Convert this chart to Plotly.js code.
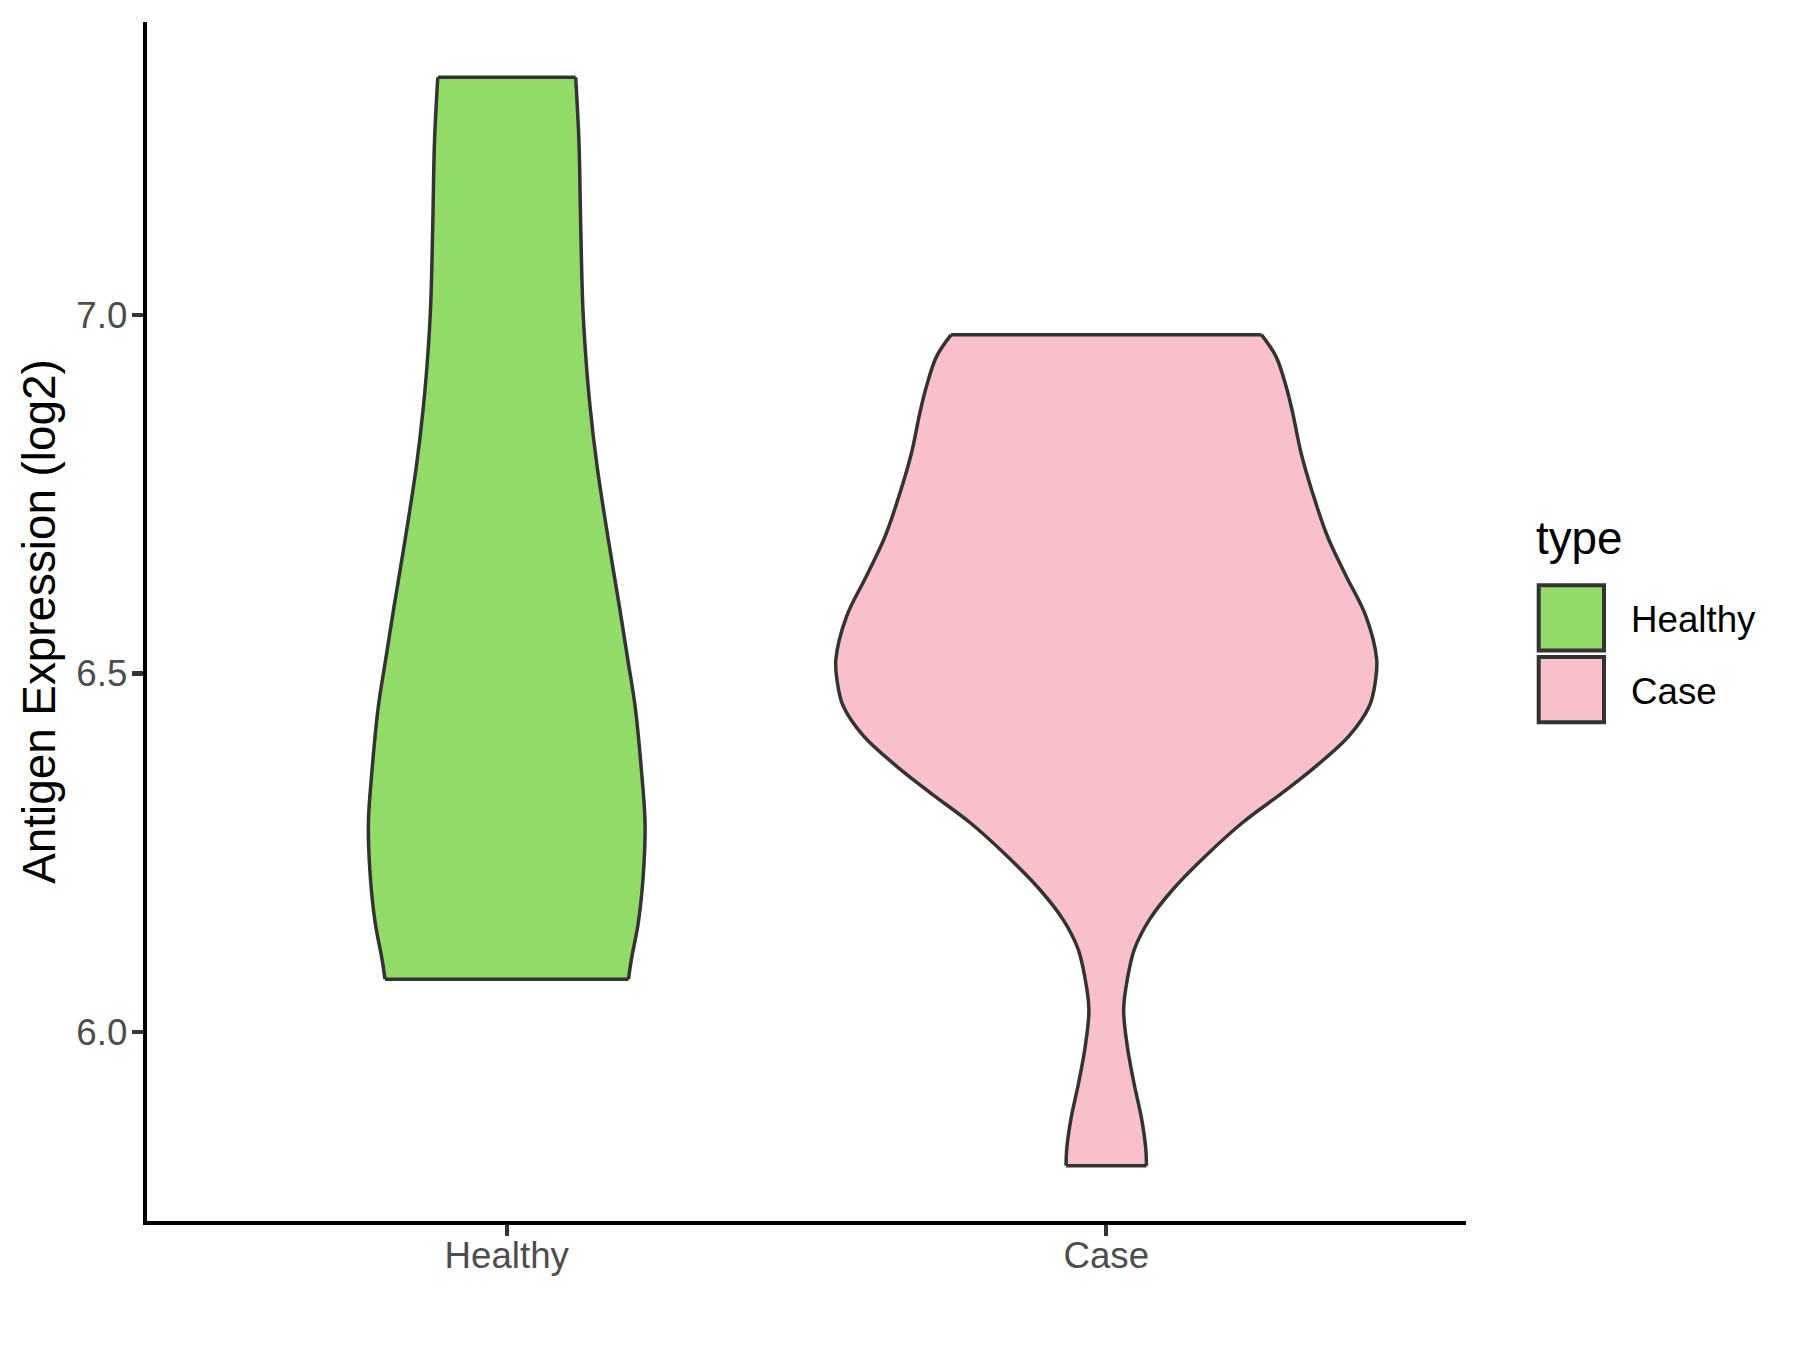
<!DOCTYPE html>
<html>
<head>
<meta charset="utf-8">
<script src="https://cdn.plot.ly/plotly-3.0.1.min.js"></script>
<style>
  html, body { margin: 0; padding: 0; background: #ffffff; }
  #chart { width: 1800px; height: 1350px; }
</style>
</head>
<body>
<div id="chart"></div>
<script>
// ---- Data (violin density profiles) ----
const categories = ['Healthy', 'Case'];
const yTickVals = [6.0, 6.5, 7.0];
const yTickText = ['6.0', '6.5', '7.0'];

// Healthy: expression levels (log2) and violin half-widths (in category units)
const healthyLevels = [6.074, 6.102, 6.153, 6.222, 6.292, 6.362, 6.455, 6.519, 6.588, 6.684, 6.787, 6.872, 6.946, 7.014, 7.128, 7.241, 7.331];
const healthyHalfWidth = [0.203, 0.208, 0.2195, 0.228, 0.2307, 0.225, 0.214, 0.202, 0.189, 0.170, 0.151, 0.139, 0.1315, 0.1268, 0.1233, 0.1205, 0.115];

// Case
const caseLevels = [5.814, 5.837, 5.879, 5.930, 5.981, 6.032, 6.078, 6.116, 6.157, 6.199, 6.246, 6.292, 6.334, 6.371, 6.413, 6.455, 6.490, 6.520, 6.580, 6.636, 6.691, 6.752, 6.807, 6.863, 6.900, 6.942, 6.972];
const caseHalfWidth = [0.067, 0.066, 0.059, 0.046, 0.035, 0.029, 0.036, 0.047, 0.072, 0.111, 0.166, 0.227, 0.294, 0.350, 0.405, 0.439, 0.449, 0.451, 0.433, 0.400, 0.369, 0.344, 0.325, 0.311, 0.300, 0.283, 0.259];

const fillColors = ['#93DB69', '#F7C0CB'];
const outlineColor = '#333333';

// ---- Build traces ----
const groups = [
  { name: categories[0], pos: 1, levels: healthyLevels, half: healthyHalfWidth, color: fillColors[0] },
  { name: categories[1], pos: 2, levels: caseLevels, half: caseHalfWidth, color: fillColors[1] }
];

const LW = 3.5;
const traces = [];
groups.forEach(g => {
  const left = g.levels.map((y, i) => g.pos - g.half[i]);
  const right = g.levels.map((y, i) => g.pos + g.half[i]);
  traces.push({
    type: 'scatter', mode: 'lines', x: left, y: g.levels,
    line: { color: outlineColor, width: LW, shape: 'spline', smoothing: 1 },
    hoverinfo: 'skip', showlegend: false, name: g.name
  });
  traces.push({
    type: 'scatter', mode: 'lines', x: right, y: g.levels,
    fill: 'tonextx', fillcolor: g.color,
    line: { color: outlineColor, width: LW, shape: 'spline', smoothing: 1 },
    hoverinfo: 'skip', showlegend: false, name: g.name
  });
  const n = g.levels.length - 1;
  traces.push({
    type: 'scatter', mode: 'lines',
    x: [left[0], right[0], null, left[n], right[n]],
    y: [g.levels[0], g.levels[0], null, g.levels[n], g.levels[n]],
    connectgaps: false,
    line: { color: outlineColor, width: LW },
    hoverinfo: 'skip', showlegend: false, name: g.name
  });
});

// ---- Layout ----
const W = 1800, H = 1350;
const M = { l: 147, r: 334, t: 22, b: 129 };
const plotW = W - M.l - M.r, plotH = H - M.t - M.b;
const px2x = px => (px - M.l) / plotW;
const px2y = py => (H - M.b - py) / plotH;

const FONT = 'Liberation Sans, Arial, sans-serif';

// custom ggplot-style legend
const shapes = [];
const annotations = [];
const keyTop = [585.3, 657];
const keySize = 65.3;
categories.forEach((c, i) => {
  shapes.push({
    type: 'rect', xref: 'paper', yref: 'paper',
    x0: px2x(1538.7), x1: px2x(1538.7 + keySize),
    y0: px2y(keyTop[i] + keySize), y1: px2y(keyTop[i]),
    fillcolor: fillColors[i], line: { color: outlineColor, width: 4 }
  });
  annotations.push({
    xref: 'paper', yref: 'paper', x: px2x(1629), y: px2y(keyTop[i] + keySize / 2 + 1.5),
    xanchor: 'left', yanchor: 'middle', showarrow: false, text: c,
    font: { family: FONT, size: 36.7, color: '#000000' }
  });
});
annotations.push({
  xref: 'paper', yref: 'paper', x: px2x(1534), y: px2y(538),
  xanchor: 'left', yanchor: 'middle', showarrow: false, text: 'type',
  font: { family: FONT, size: 45.8, color: '#000000' }
});

const layout = {
  width: W, height: H,
  margin: M,
  paper_bgcolor: '#ffffff', plot_bgcolor: '#ffffff',
  showlegend: false,
  font: { family: FONT },
  xaxis: {
    range: [0.4, 2.6],
    tickvals: [1, 2], ticktext: categories,
    showgrid: false, zeroline: false,
    showline: true, linecolor: '#000000', linewidth: 4.3,
    ticks: 'outside', ticklen: 11, tickwidth: 4.3, tickcolor: '#333333',
    ticklabelstandoff: -12,
    tickfont: { family: FONT, size: 36.7, color: '#4D4D4D' },
    fixedrange: true
  },
  yaxis: {
    range: [5.737, 7.408],
    tickvals: yTickVals, ticktext: yTickText,
    showgrid: false, zeroline: false,
    showline: true, linecolor: '#000000', linewidth: 4.3,
    ticks: 'outside', ticklen: 11, tickwidth: 4.3, tickcolor: '#333333',
    ticklabelstandoff: -3,
    tickfont: { family: FONT, size: 36.7, color: '#4D4D4D' },
    title: { text: 'Antigen Expression (log2)', font: { family: FONT, size: 45.8, color: '#000000' }, standoff: 7 },
    fixedrange: true
  },
  shapes: shapes,
  annotations: annotations
};

Plotly.newPlot('chart', traces, layout, { staticPlot: true, displayModeBar: false });
</script>
</body>
</html>
